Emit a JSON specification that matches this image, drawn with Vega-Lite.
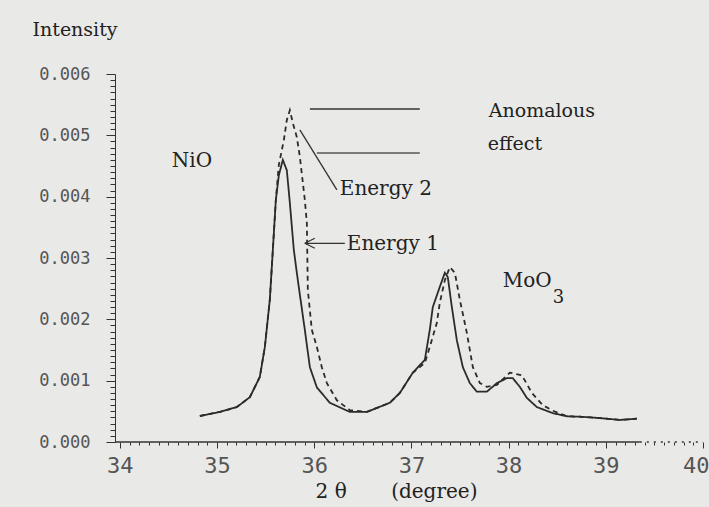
{
  "$schema": "https://vega.github.io/schema/vega-lite/v6.json",
  "autosize": "none",
  "width": 588,
  "height": 368,
  "padding": {"left": 115, "top": 74, "right": 6, "bottom": 65},
  "background": "#e9e9e7",
  "config": {
    "view": {"stroke": null},
    "axisX": {"tickCount": 60},
    "axisY": {"tickCount": 60}
  },
  "data": {"values": [{}]},
  "datasets": {
    "curves": [
      {"series": "Energy 1", "theta": 34.823, "intensity": 0.000424},
      {"series": "Energy 1", "theta": 35.029, "intensity": 0.00049},
      {"series": "Energy 1", "theta": 35.204, "intensity": 0.00057},
      {"series": "Energy 1", "theta": 35.337, "intensity": 0.00073},
      {"series": "Energy 1", "theta": 35.44, "intensity": 0.00106},
      {"series": "Energy 1", "theta": 35.492, "intensity": 0.00155},
      {"series": "Energy 1", "theta": 35.543, "intensity": 0.00232},
      {"series": "Energy 1", "theta": 35.574, "intensity": 0.00313},
      {"series": "Energy 1", "theta": 35.605, "intensity": 0.00395},
      {"series": "Energy 1", "theta": 35.636, "intensity": 0.00435},
      {"series": "Energy 1", "theta": 35.677, "intensity": 0.0046},
      {"series": "Energy 1", "theta": 35.718, "intensity": 0.00443},
      {"series": "Energy 1", "theta": 35.749, "intensity": 0.0039},
      {"series": "Energy 1", "theta": 35.79, "intensity": 0.00313},
      {"series": "Energy 1", "theta": 35.831, "intensity": 0.00264},
      {"series": "Energy 1", "theta": 35.903, "intensity": 0.00183},
      {"series": "Energy 1", "theta": 35.955, "intensity": 0.00122},
      {"series": "Energy 1", "theta": 36.027, "intensity": 0.00089},
      {"series": "Energy 1", "theta": 36.16, "intensity": 0.00064},
      {"series": "Energy 1", "theta": 36.366, "intensity": 0.00049},
      {"series": "Energy 1", "theta": 36.541, "intensity": 0.00049},
      {"series": "Energy 1", "theta": 36.778, "intensity": 0.00064},
      {"series": "Energy 1", "theta": 36.881, "intensity": 0.0008},
      {"series": "Energy 1", "theta": 37.014, "intensity": 0.00113},
      {"series": "Energy 1", "theta": 37.138, "intensity": 0.00134},
      {"series": "Energy 1", "theta": 37.189, "intensity": 0.00183},
      {"series": "Energy 1", "theta": 37.22, "intensity": 0.0022},
      {"series": "Energy 1", "theta": 37.292, "intensity": 0.00253},
      {"series": "Energy 1", "theta": 37.344, "intensity": 0.00276},
      {"series": "Energy 1", "theta": 37.374, "intensity": 0.00269},
      {"series": "Energy 1", "theta": 37.416, "intensity": 0.0022},
      {"series": "Energy 1", "theta": 37.467, "intensity": 0.00166},
      {"series": "Energy 1", "theta": 37.529, "intensity": 0.00122},
      {"series": "Energy 1", "theta": 37.601, "intensity": 0.00096},
      {"series": "Energy 1", "theta": 37.673, "intensity": 0.00082},
      {"series": "Energy 1", "theta": 37.776, "intensity": 0.00082},
      {"series": "Energy 1", "theta": 37.879, "intensity": 0.00096},
      {"series": "Energy 1", "theta": 37.981, "intensity": 0.00104},
      {"series": "Energy 1", "theta": 38.043, "intensity": 0.00104},
      {"series": "Energy 1", "theta": 38.115, "intensity": 0.0009},
      {"series": "Energy 1", "theta": 38.187, "intensity": 0.00072},
      {"series": "Energy 1", "theta": 38.29, "intensity": 0.00057},
      {"series": "Energy 1", "theta": 38.455, "intensity": 0.00047},
      {"series": "Energy 1", "theta": 38.599, "intensity": 0.00042},
      {"series": "Energy 1", "theta": 38.763, "intensity": 0.00041},
      {"series": "Energy 1", "theta": 38.938, "intensity": 0.00039},
      {"series": "Energy 1", "theta": 39.144, "intensity": 0.00036},
      {"series": "Energy 1", "theta": 39.319, "intensity": 0.00038},
      {"series": "Energy 2", "theta": 34.823, "intensity": 0.000424},
      {"series": "Energy 2", "theta": 35.029, "intensity": 0.00049},
      {"series": "Energy 2", "theta": 35.204, "intensity": 0.00057},
      {"series": "Energy 2", "theta": 35.337, "intensity": 0.00073},
      {"series": "Energy 2", "theta": 35.44, "intensity": 0.00106},
      {"series": "Energy 2", "theta": 35.492, "intensity": 0.00155},
      {"series": "Energy 2", "theta": 35.543, "intensity": 0.00232},
      {"series": "Energy 2", "theta": 35.574, "intensity": 0.00313},
      {"series": "Energy 2", "theta": 35.605, "intensity": 0.00395},
      {"series": "Energy 2", "theta": 35.636, "intensity": 0.00452},
      {"series": "Energy 2", "theta": 35.687, "intensity": 0.00492},
      {"series": "Energy 2", "theta": 35.718, "intensity": 0.00525},
      {"series": "Energy 2", "theta": 35.749, "intensity": 0.00541},
      {"series": "Energy 2", "theta": 35.78, "intensity": 0.0052},
      {"series": "Energy 2", "theta": 35.821, "intensity": 0.00497},
      {"series": "Energy 2", "theta": 35.852, "intensity": 0.00465},
      {"series": "Energy 2", "theta": 35.903, "intensity": 0.00395},
      {"series": "Energy 2", "theta": 35.924, "intensity": 0.00357},
      {"series": "Energy 2", "theta": 35.934, "intensity": 0.00248},
      {"series": "Energy 2", "theta": 35.975, "intensity": 0.00183},
      {"series": "Energy 2", "theta": 36.027, "intensity": 0.00155},
      {"series": "Energy 2", "theta": 36.078, "intensity": 0.00122},
      {"series": "Energy 2", "theta": 36.13, "intensity": 0.00096},
      {"series": "Energy 2", "theta": 36.233, "intensity": 0.00068},
      {"series": "Energy 2", "theta": 36.366, "intensity": 0.00052},
      {"series": "Energy 2", "theta": 36.541, "intensity": 0.00049},
      {"series": "Energy 2", "theta": 36.778, "intensity": 0.00064},
      {"series": "Energy 2", "theta": 36.881, "intensity": 0.0008},
      {"series": "Energy 2", "theta": 37.014, "intensity": 0.00113},
      {"series": "Energy 2", "theta": 37.138, "intensity": 0.00129},
      {"series": "Energy 2", "theta": 37.189, "intensity": 0.00155},
      {"series": "Energy 2", "theta": 37.261, "intensity": 0.00194},
      {"series": "Energy 2", "theta": 37.292, "intensity": 0.00227},
      {"series": "Energy 2", "theta": 37.344, "intensity": 0.00264},
      {"series": "Energy 2", "theta": 37.395, "intensity": 0.00285},
      {"series": "Energy 2", "theta": 37.447, "intensity": 0.00276},
      {"series": "Energy 2", "theta": 37.498, "intensity": 0.00232},
      {"series": "Energy 2", "theta": 37.57, "intensity": 0.00178},
      {"series": "Energy 2", "theta": 37.632, "intensity": 0.00122},
      {"series": "Energy 2", "theta": 37.704, "intensity": 0.00096},
      {"series": "Energy 2", "theta": 37.776, "intensity": 0.0009},
      {"series": "Energy 2", "theta": 37.879, "intensity": 0.00093},
      {"series": "Energy 2", "theta": 38.012, "intensity": 0.00113},
      {"series": "Energy 2", "theta": 38.136, "intensity": 0.00109},
      {"series": "Energy 2", "theta": 38.239, "intensity": 0.0008},
      {"series": "Energy 2", "theta": 38.352, "intensity": 0.0006},
      {"series": "Energy 2", "theta": 38.455, "intensity": 0.00051},
      {"series": "Energy 2", "theta": 38.599, "intensity": 0.00042},
      {"series": "Energy 2", "theta": 38.763, "intensity": 0.00041},
      {"series": "Energy 2", "theta": 38.938, "intensity": 0.00039},
      {"series": "Energy 2", "theta": 39.144, "intensity": 0.00036},
      {"series": "Energy 2", "theta": 39.319, "intensity": 0.00038}
    ]
  },
  "layer": [
    {
      "data": {"name": "curves"},
      "mark": {"type": "line", "strokeWidth": 1.8, "color": "#2b2b2b"},
      "encoding": {
        "x": {
          "field": "theta", "type": "quantitative",
          "scale": {"domain": [33.95, 40], "nice": false, "zero": false},
          "axis": {
            "title": "2 θ\u00a0\u00a0\u00a0\u00a0\u00a0\u00a0\u00a0(degree)",
            "titleFont": "DejaVu Serif", "titleFontSize": 20, "titleFontWeight": "normal", "titleColor": "#222",
            "titleAlign": "center", "titleBaseline": "alphabetic", "titleX": 281, "titleY": 55,
            "labelExpr": "abs(datum.value - round(datum.value)) < 0.001 ? format(datum.value, 'd') : ''",
            "labelFont": "DejaVu Sans Mono", "labelFontSize": 22, "labelColor": "#555",
            "labelPadding": 7, "labelOverlap": false, "labelFlush": false,
            "labelAlign": {"condition": {"test": "datum.value > 39.9", "value": "right"}, "value": "center"},
            "labelOffset": {"condition": {"test": "datum.value > 39.9", "value": 6}, "value": 0},
            "tickSize": {"condition": {"test": "abs(datum.value - round(datum.value)) < 0.001", "value": 6}, "value": 3},
            "tickColor": "#333", "domain": false, "grid": false
          }
        },
        "y": {
          "field": "intensity", "type": "quantitative",
          "scale": {"domain": [0, 0.006], "nice": false},
          "axis": {
            "title": "Intensity",
            "titleFont": "DejaVu Serif", "titleFontSize": 19, "titleFontWeight": "normal", "titleColor": "#222",
            "titleAngle": 0, "titleAlign": "left", "titleBaseline": "alphabetic", "titleX": -83, "titleY": -39,
            "labelExpr": "abs(datum.value * 1000 - round(datum.value * 1000)) < 0.01 ? format(datum.value, '.3f') : ''",
            "labelFont": "DejaVu Sans Mono", "labelFontSize": 17, "labelColor": "#555",
            "labelPadding": 16, "labelOverlap": false,
            "tickSize": {"condition": {"test": "abs(datum.value * 1000 - round(datum.value * 1000)) < 0.01", "value": 9}, "value": 5},
            "tickColor": "#333", "domainColor": "#333", "grid": false
          }
        },
        "strokeDash": {
          "field": "series", "type": "nominal",
          "scale": {"domain": ["Energy 1", "Energy 2"], "range": [[1, 0], [5, 4]]},
          "legend": null
        }
      }
    },
    {
      "mark": {"type": "rule", "color": "#333", "strokeWidth": 1.5},
      "encoding": {"x": {"datum": 33.95}, "x2": {"datum": 39.35}, "y": {"datum": 0}}
    },
    {
      "mark": {"type": "rule", "color": "#333", "strokeWidth": 1.5, "strokeDash": [2, 5]},
      "encoding": {"x": {"datum": 39.35}, "x2": {"datum": 40}, "y": {"datum": 0}}
    },
    {
      "mark": {"type": "rule", "color": "#333", "strokeWidth": 1.5},
      "encoding": {"x": {"datum": 35.955}, "x2": {"datum": 37.086}, "y": {"datum": 0.00543}}
    },
    {
      "mark": {"type": "rule", "color": "#555", "strokeWidth": 1.5},
      "encoding": {"x": {"datum": 36.027}, "x2": {"datum": 37.086}, "y": {"datum": 0.00471}}
    },
    {
      "mark": {"type": "rule", "color": "#333", "strokeWidth": 1.3},
      "encoding": {"x": {"datum": 35.852}, "x2": {"datum": 36.233}, "y": {"datum": 0.00509}, "y2": {"datum": 0.00411}}
    },
    {
      "mark": {"type": "rule", "color": "#333", "strokeWidth": 1.3},
      "encoding": {"x": {"datum": 35.903}, "x2": {"datum": 36.315}, "y": {"datum": 0.00324}}
    },
    {
      "mark": {"type": "point", "shape": "M0,0L2,-1M0,0L2,1", "size": 100, "filled": false, "stroke": "#333", "strokeWidth": 1.3, "opacity": 1},
      "encoding": {"x": {"datum": 35.903}, "y": {"datum": 0.00324}}
    },
    {
      "mark": {"type": "text", "text": "NiO", "align": "left", "baseline": "alphabetic", "font": "DejaVu Serif", "fontSize": 20, "color": "#222"},
      "encoding": {"x": {"datum": 34.535}, "y": {"datum": 0.00448}}
    },
    {
      "mark": {"type": "text", "text": "Anomalous", "align": "left", "baseline": "alphabetic", "font": "DejaVu Serif", "fontSize": 19, "color": "#222"},
      "encoding": {"x": {"datum": 37.796}, "y": {"datum": 0.0053}}
    },
    {
      "mark": {"type": "text", "text": "effect", "align": "left", "baseline": "alphabetic", "font": "DejaVu Serif", "fontSize": 19, "color": "#222"},
      "encoding": {"x": {"datum": 37.786}, "y": {"datum": 0.00476}}
    },
    {
      "mark": {"type": "text", "text": "Energy 2", "align": "left", "baseline": "alphabetic", "font": "DejaVu Serif", "fontSize": 20, "color": "#222"},
      "encoding": {"x": {"datum": 36.263}, "y": {"datum": 0.00403}}
    },
    {
      "mark": {"type": "text", "text": "Energy 1", "align": "left", "baseline": "alphabetic", "font": "DejaVu Serif", "fontSize": 20, "color": "#222"},
      "encoding": {"x": {"datum": 36.335}, "y": {"datum": 0.00313}}
    },
    {
      "mark": {"type": "text", "text": "MoO", "align": "left", "baseline": "alphabetic", "font": "DejaVu Serif", "fontSize": 20, "color": "#222"},
      "encoding": {"x": {"datum": 37.94}, "y": {"datum": 0.00253}}
    },
    {
      "mark": {"type": "text", "text": "3", "align": "left", "baseline": "alphabetic", "font": "DejaVu Serif", "fontSize": 18, "color": "#222"},
      "encoding": {"x": {"datum": 38.455}, "y": {"datum": 0.00227}}
    }
  ]
}
